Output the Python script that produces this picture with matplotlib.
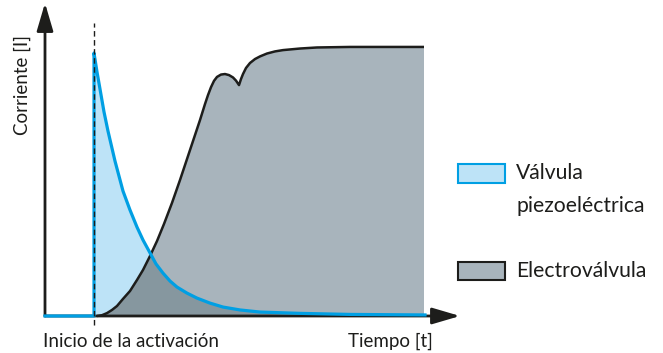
import numpy as np
import matplotlib.pyplot as plt
from matplotlib.patches import Polygon, Rectangle

plt.rcParams['font.family'] = ['Lato', 'DejaVu Sans']

# time axis (arbitrary units), current normalised to the piezo peak
activation_t = 4.9

# piezo valve: sharp peak at activation, then fast decay
piezo_t = [0.0, 4.9, 4.9, 5.2, 5.5, 5.9, 6.3, 7.0, 7.8, 8.5, 9.2, 9.8, 10.5, 11.1,
           11.8, 12.5, 13.2, 14.2, 15.2, 16.5, 17.8, 19.5, 21.5, 25.5, 30.5, 38.0]
piezo_i = [0.0, 0.0, 1.0, 0.928, 0.863, 0.776, 0.703, 0.589, 0.475, 0.403, 0.338,
           0.289, 0.240, 0.198, 0.163, 0.133, 0.110, 0.087, 0.068, 0.049, 0.034,
           0.023, 0.015, 0.010, 0.006, 0.004]

# solenoid valve: slow rise, bump + dip, then plateau
sol_t = [5.2, 5.7, 6.2, 6.7, 7.2, 7.8, 8.5, 9.2, 9.8, 10.5, 11.2, 11.9, 12.7, 13.5,
         14.5, 15.5, 16.0, 16.3, 16.6, 16.9, 17.2, 17.6, 18.0, 18.4, 18.8, 19.1,
         19.4, 19.6, 19.8, 20.1, 20.5, 21.0, 21.5, 22.2, 23.0, 23.8, 25.5, 27.2,
         30.5, 37.9]
sol_i = [0.0, 0.003, 0.011, 0.023, 0.038, 0.065, 0.095, 0.137, 0.175, 0.228, 0.285,
         0.350, 0.430, 0.517, 0.631, 0.745, 0.806, 0.840, 0.870, 0.894, 0.909,
         0.918, 0.920, 0.916, 0.907, 0.895, 0.878, 0.901, 0.920, 0.943, 0.962,
         0.977, 0.987, 0.998, 1.006, 1.011, 1.017, 1.021, 1.023, 1.023]

labels = ['Válvula', 'piezoeléctrica', 'Electroválvula']

blue = '#009fe3'
light_blue = '#bde3f7'
grey = '#a8b4bc'
overlap = '#86979f'
black = '#1d1d1b'

fig = plt.figure(figsize=(6.63, 3.53), dpi=100)
ax = fig.add_axes([0, 0, 1, 1])
ax.set_xlim(-4.5, 61.8)
ax.set_ylim(-0.1407, 1.2015)
ax.axis('off')

# fills
ax.fill_between(piezo_t, piezo_i, color=light_blue, lw=0, zorder=1)
sol_poly = Polygon(np.column_stack([sol_t + [sol_t[-1]], sol_i + [0.0]]),
                   closed=True, facecolor=grey, edgecolor='none', zorder=2)
ax.add_patch(sol_poly)
ov = ax.fill_between(piezo_t, piezo_i, color=overlap, lw=0, zorder=3)
ov.set_clip_path(sol_poly)

# curves
ax.plot(sol_t, sol_i, color=black, lw=1.8, zorder=4, solid_capstyle='butt',
        solid_joinstyle='round')
ax.plot(piezo_t, piezo_i, color=blue, lw=2.3, zorder=6, solid_joinstyle='round')

# axes with arrows
arrow = dict(arrowstyle='-|>,head_length=17,head_width=5', mutation_scale=1,
             color=black, lw=2, shrinkA=0, shrinkB=0)
ax.annotate('', xy=(41.5, 0), xytext=(0, 0), arrowprops=arrow, zorder=5)
ax.annotate('', xy=(0, 1.19), xytext=(0, 0), arrowprops=arrow, zorder=5)

# activation marker
ax.vlines(activation_t, -0.034, 1.114, colors=black, lw=1, linestyles=(0, (4, 2.5)), zorder=7)

ax.text(-0.2, -0.118, 'Inicio de la activación', fontsize=13.5, color=black,
        ha='left', va='baseline')
ax.text(38.8, -0.118, 'Tiempo [t]', fontsize=13.5, color=black, ha='right', va='baseline')
ax.text(-2.3, 0.878, 'Corriente [I]', fontsize=13.5, color=black, rotation=90,
        ha='center', va='center')

# legend, drawn by hand so the swatch sits on the first text line
tr = ax.transAxes
ax.add_patch(Rectangle((0.6913, 0.4816), 0.0700, 0.0528, transform=tr,
                       facecolor=light_blue, edgecolor=blue, lw=1.5, zorder=8))
ax.add_patch(Rectangle((0.6913, 0.2077), 0.0700, 0.0510, transform=tr,
                       facecolor=grey, edgecolor=black, lw=1.5, zorder=8))
ax.text(0.7783, 0.4929, labels[0], transform=tr, fontsize=15.2, color=black, va='baseline')
ax.text(0.7783, 0.4003, labels[1], transform=tr, fontsize=15.2, color=black, va='baseline')
ax.text(0.7783, 0.2144, labels[2], transform=tr, fontsize=15.2, color=black, va='baseline')

fig.savefig('out.png', dpi=100)
